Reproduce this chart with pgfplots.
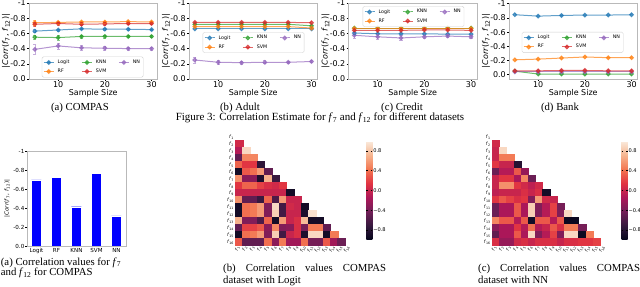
\documentclass[border=0pt]{standalone}
\usepackage{fontspec}
\setmainfont{Liberation Serif}
\newfontfamily\dejavu{DejaVu Sans}
\usepackage{pgfplots}
\pgfplotsset{compat=1.18}
\definecolor{tabblue}{HTML}{1F77B4}
\definecolor{taborange}{HTML}{FF7F0E}
\definecolor{tabgreen}{HTML}{2CA02C}
\definecolor{tabred}{HTML}{D62728}
\definecolor{tabpurple}{HTML}{9467BD}
\newcommand\fl[1]{\textit{f}\textsubscript{#1}}
\newcommand\corrlab{|\textit{Corr}(\textit{f}\textsubscript{7}, \textit{f}\textsubscript{12})|}
\newcommand\capf{\fontsize{10.8}{11}\selectfont}
\pgfplotsset{
  colormap={rocket}{rgb255(0cm)=(3,5,26) rgb255(1.43cm)=(53,25,62) rgb255(2.86cm)=(112,31,87) rgb255(4.29cm)=(173,23,89) rgb255(5.71cm)=(225,51,66) rgb255(7.14cm)=(243,118,81) rgb255(8.57cm)=(246,180,143) rgb255(10cm)=(250,235,221)},
  linechart/.style={
    scale only axis, width=128.4bp, height=76bp, anchor=south west,
    xmin=3.75, xmax=31.25, ymin=0, ymax=1,
    xtick={10,20,30},
    ytick={0,0.2,0.4,0.6,0.8,1},
    yticklabels={0.0,-0.2,-0.4,-0.6,-0.8,-1},
    axis line style={gray!55},
    tick style={black, line width=0.5bp},
    major tick length=2bp,
    tick align=outside, xtick pos=bottom, ytick pos=left,
    font=\dejavu\fontsize{8}{9}\selectfont,
    /pgf/number format/assume math mode=true,
    x tick label style={inner sep=0.5bp},
    y tick label style={inner sep=1bp},
    xlabel={Sample Size},
    ylabel={\corrlab},
    xlabel style={at={(axis description cs:0.5,-0.185)}, anchor=center},
    ylabel style={at={(axis description cs:-0.179,0.5)}, anchor=center},
    unbounded coords=jump,
    legend columns=3,
    legend cell align=left,
    legend style={font=\dejavu\fontsize{4.8}{5.5}\selectfont, draw=gray!35, rounded corners=1.5bp,
      fill=white, fill opacity=0.8, text opacity=1, inner sep=1.2bp,
      /tikz/every odd column/.append style={column sep=1.5bp},
      /tikz/every even column/.append style={column sep=10bp}},
    legend image code/.code={\draw[mark repeat=2,mark phase=2] plot coordinates {(0bp,0bp)(5bp,0bp)(10bp,0bp)};},
  },
  ser/.style={color=#1, mark=*, mark size=1.9bp, line width=1bp, opacity=0.7},
  ebar/.style={color=#1, line width=0.6bp, opacity=0.55, mark=-, mark size=1.6bp, forget plot},
  hmaxis/.style={
    scale only axis, width=117bp, height=112bp, anchor=south west,
    xmin=0.5, xmax=16.5, ymin=0.5, ymax=16.5, y dir=reverse,
    axis line style={draw=none}, major tick length=0bp,
    xtick={1,...,16}, ytick={1,...,16},
    xticklabels={\fl{1},\fl{2},\fl{3},\fl{4},\fl{5},\fl{6},\fl{7},\fl{8},\fl{9},\fl{10},\fl{11},\fl{12},\fl{13},\fl{14},\fl{15},\fl{16}},
    yticklabels={\fl{1},\fl{2},\fl{3},\fl{4},\fl{5},\fl{6},\fl{7},\fl{8},\fl{9},\fl{10},\fl{11},\fl{12},\fl{13},\fl{14},\fl{15},\fl{16}},
    font=\dejavu\fontsize{4.6}{5}\selectfont,
    x tick label style={rotate=65, anchor=east, inner sep=0.8bp},
    y tick label style={inner sep=1.2bp},
    colormap name=rocket, point meta min=-1, point meta max=1,
    colorbar,
    colorbar style={
      at={(parent axis.north east)}, anchor=north west, xshift=5.5bp, yshift=-7.7bp,
      scale only axis, width=6bp, height=99bp, y dir=normal,
      ytick={-0.8,-0.4,0,0.4,0.8},
      yticklabels={−0.8,−0.4,0.0,0.4,0.8},
      axis line style={draw=none},
      major tick length=1.8bp, tick style={black,line width=0.4bp},
      y tick label style={inner sep=0.8bp},
      font=\dejavu\fontsize{5.1}{7}\selectfont,
    },
  },
  hmcell/.style={scatter, only marks, mark=square*, mark size=3.7bp, point meta=explicit,
    scatter/use mapped color={draw=mapped color, fill=mapped color},
    every mark/.append style={yscale=0.96, line width=0.3bp}},
}
\begin{document}
\begin{tikzpicture}
\path[use as bounding box] (0,0) rectangle (640bp,287bp);
% ---------------- (a) COMPAS
\begin{axis}[linechart, at={(29bp,208bp)},
  legend style={at={(0.1,0.02)}, anchor=south west}]
\addplot[ser=tabblue] coordinates {(5,0.63) (10,0.645) (15,0.66) (20,0.655) (25,0.655) (30,0.65)};
\addplot[ser=tabgreen] coordinates {(5,0.55) (10,0.545) (15,0.56) (20,0.56) (25,0.56) (30,0.56)};
\addplot[ser=tabpurple] coordinates {(5,0.39) (10,0.435) (15,0.41) (20,0.405) (25,0.40) (30,0.40)};
\addplot[ser=taborange] coordinates {(5,0.74) (10,0.745) (15,0.75) (20,0.75) (25,0.755) (30,0.75)};
\addplot[ser=tabred] coordinates {(5,0.72) (10,0.73) (15,0.72) (20,0.725) (25,0.73) (30,0.73)};
\legend{Logit,KNN,NN,RF,SVM}
\addplot[ebar=tabblue] coordinates {(5,0.61) (5,0.65) (5,nan) (10,0.63) (10,0.66) (10,nan) (15,0.65) (15,0.67) (15,nan) (20,0.645) (20,0.665) (20,nan) (25,0.645) (25,0.665) (25,nan) (30,0.64) (30,0.66)};
\addplot[ebar=tabgreen] coordinates {(5,0.52) (5,0.58) (5,nan) (10,0.515) (10,0.575) (10,nan) (15,0.54) (15,0.58) (15,nan) (20,0.54) (20,0.58) (20,nan) (25,0.545) (25,0.575) (25,nan) (30,0.545) (30,0.575)};
\addplot[ebar=tabpurple] coordinates {(5,0.33) (5,0.45) (5,nan) (10,0.395) (10,0.475) (10,nan) (15,0.38) (15,0.44) (15,nan) (20,0.38) (20,0.43) (20,nan) (25,0.38) (25,0.42) (25,nan) (30,0.38) (30,0.42)};
\addplot[ebar=taborange] coordinates {(5,0.71) (5,0.77) (5,nan) (10,0.725) (10,0.765) (10,nan) (15,0.735) (15,0.765) (15,nan) (20,0.735) (20,0.765) (20,nan) (25,0.745) (25,0.765) (25,nan) (30,0.74) (30,0.76)};
\addplot[ebar=tabred] coordinates {(5,0.69) (5,0.75) (5,nan) (10,0.71) (10,0.75) (10,nan) (15,0.70) (15,0.74) (15,nan) (20,0.71) (20,0.74) (20,nan) (25,0.715) (25,0.745) (25,nan) (30,0.72) (30,0.74)};
\end{axis}
% ---------------- (b) Adult
\begin{axis}[linechart, at={(189bp,208bp)},
  legend style={at={(0.107,0.618)}, anchor=north west}]
\addplot[ser=tabblue] coordinates {(5,0.66) (10,0.66) (15,0.66) (20,0.66) (25,0.66) (30,0.66)};
\addplot[ser=tabgreen] coordinates {(5,0.72) (10,0.72) (15,0.72) (20,0.72) (25,0.72) (30,0.70)};
\addplot[ser=tabpurple] coordinates {(5,0.25) (10,0.22) (15,0.215) (20,0.22) (25,0.22) (30,0.23)};
\addplot[ser=taborange] coordinates {(5,0.69) (10,0.69) (15,0.69) (20,0.69) (25,0.69) (30,0.67)};
\addplot[ser=tabred] coordinates {(5,0.745) (10,0.745) (15,0.745) (20,0.745) (25,0.745) (30,0.74)};
\legend{Logit,KNN,NN,RF,SVM}
\addplot[ebar=tabpurple] coordinates {(5,0.21) (5,0.29) (5,nan) (10,0.19) (10,0.25) (10,nan) (15,0.195) (15,0.235) (15,nan) (20,0.20) (20,0.24) (20,nan) (25,0.205) (25,0.235) (25,nan) (30,0.215) (30,0.245)};
\end{axis}
% ---------------- (c) Credit
\begin{axis}[linechart, at={(348.5bp,208bp)},
  legend style={at={(0.11,0.96)}, anchor=north west}]
\addplot[ser=tabblue] coordinates {(5,0.605) (10,0.595) (15,0.595) (20,0.595) (25,0.59) (30,0.59)};
\addplot[ser=tabgreen] coordinates {(5,0.67) (10,0.67) (15,0.67) (20,0.67) (25,0.67) (30,0.67)};
\addplot[ser=tabpurple] coordinates {(5,0.575) (10,0.555) (15,0.54) (20,0.555) (25,0.565) (30,0.555)};
\addplot[ser=taborange] coordinates {(5,0.665) (10,0.665) (15,0.665) (20,0.665) (25,0.665) (30,0.665)};
\addplot[ser=tabred] coordinates {(5,0.64) (10,0.64) (15,0.64) (20,0.645) (25,0.645) (30,0.64)};
\legend{Logit,KNN,NN,RF,SVM}
\addplot[ebar=tabpurple] coordinates {(5,0.535) (5,0.615) (5,nan) (10,0.525) (10,0.585) (10,nan) (15,0.51) (15,0.57) (15,nan) (20,0.535) (20,0.575) (20,nan) (25,0.545) (25,0.585) (25,nan) (30,0.535) (30,0.575)};
\addplot[ebar=tabblue] coordinates {(5,0.59) (5,0.62)};
\end{axis}
% ---------------- (d) Bank
\begin{axis}[linechart, at={(509bp,208bp)}, ymin=-0.06, ymax=1.01,
  legend style={at={(0.10,0.62)}, anchor=north west}]
\addplot[ser=tabblue] coordinates {(5,0.845) (10,0.825) (15,0.835) (20,0.84) (25,0.84) (30,0.845)};
\addplot[ser=tabgreen] coordinates {(5,0.05) (10,0.01) (15,0.01) (20,0.01) (25,0.01) (30,0.01)};
\addplot[ser=tabpurple] coordinates {(5,0.04) (10,0.04) (15,0.04) (20,0.04) (25,0.04) (30,0.04)};
\addplot[ser=taborange] coordinates {(5,0.21) (10,0.22) (15,0.235) (20,0.25) (25,0.24) (30,0.24)};
\addplot[ser=tabred] coordinates {(5,0.055) (10,0.055) (15,0.06) (20,0.06) (25,0.055) (30,0.055)};
\legend{Logit,KNN,NN,RF,SVM}
\end{axis}
% ---------------- captions top
\node[font=\capf] at (80bp,179bp) {(a) COMPAS};
\node[font=\capf] at (240bp,179bp) {(b) Adult};
\node[font=\capf] at (402bp,179bp) {(c) Credit};
\node[font=\capf] at (560bp,179bp) {(d) Bank};
\node[font=\fontsize{11}{12}\selectfont] at (320bp,169bp) {Figure 3: Correlation Estimate for \textit{f}\textsubscript{7} and \textit{f}\textsubscript{12} for different datasets};
% ---------------- bar chart
\begin{axis}[scale only axis, width=99bp, height=95bp, at={(27bp,41bp)}, anchor=south west,
  ybar, bar width=10bp, xmin=-0.475, xmax=4.475, ymin=0, ymax=1,
  xtick={0,1,2,3,4}, xticklabels={Logit,RF,KNN,SVM,NN},
  ytick={0,0.2,0.4,0.6,0.8,1}, yticklabels={0.0,-0.2,-0.4,-0.6,-0.8,-1},
  axis line style={gray!55}, tick style={black, line width=0.5bp}, major tick length=1.5bp,
  tick align=outside, xtick pos=bottom, ytick pos=left,
  font=\dejavu\fontsize{5.6}{6}\selectfont,
  ylabel={\corrlab}, ylabel style={at={(axis description cs:-0.2,0.5)}, anchor=center},
  x tick label style={inner sep=0.5bp}, y tick label style={inner sep=1bp}]
\addplot[fill=blue, draw=white, line width=0.3bp] coordinates {(0,0.695) (1,0.72) (2,0.414) (3,0.765) (4,0.316)};
\end{axis}
% ---------------- heatmap Logit
\begin{axis}[hmaxis, at={(235.3bp,41.7bp)}]
\addplot[hmcell] coordinates {
(1,2) [0.05]
(1,3) [-0.1] (2,3) [0.9]
(1,4) [-0.5] (2,4) [0.5] (3,4) [0.5]
(1,5) [0.35] (2,5) [0.15] (3,5) [0.15] (4,5) [-0.75]
(1,6) [-0.9] (2,6) [0.3] (3,6) [0.4] (4,6) [0.6] (5,6) [-0.5]
(1,7) [0.55] (2,7) [-0.3] (3,7) [-0.3] (4,7) [-0.85] (5,7) [0.7] (6,7) [-0.7]
(1,8) [0.15] (2,8) [0.35] (3,8) [0.35] (4,8) [0.2] (5,8) [0.1] (6,8) [0.05] (7,8) [0.15]
(1,9) [0.0] (2,9) [0.0] (3,9) [0.0] (4,9) [0.0] (5,9) [0.0] (6,9) [0.0] (7,9) [0.0] (8,9) [-0.9]
(1,10) [0.55] (2,10) [-0.5] (3,10) [-0.5] (4,10) [-0.7] (5,10) [0.35] (6,10) [-0.6] (7,10) [0.6] (8,10) [0.0] (9,10) [0.0]
(1,11) [-0.9] (2,11) [0.4] (3,11) [0.45] (4,11) [0.6] (5,11) [-0.35] (6,11) [0.9] (7,11) [-0.65] (8,11) [0.05] (9,11) [0.0] (10,11) [-0.9]
(1,12) [-0.9] (2,12) [0.4] (3,12) [0.45] (4,12) [0.6] (5,12) [-0.35] (6,12) [0.85] (7,12) [-0.65] (8,12) [0.0] (9,12) [0.0] (10,12) [-0.85] (11,12) [0.95]
(1,13) [0.7] (2,13) [-0.35] (3,13) [-0.35] (4,13) [-0.6] (5,13) [0.35] (6,13) [-0.9] (7,13) [0.6] (8,13) [0.0] (9,13) [0.1] (10,13) [0.75] (11,13) [-0.9] (12,13) [-0.9]
(1,14) [-0.5] (2,14) [0.2] (3,14) [0.2] (4,14) [0.3] (5,14) [-0.3] (6,14) [0.5] (7,14) [-0.35] (8,14) [-0.3] (9,14) [0.1] (10,14) [-0.4] (11,14) [0.45] (12,14) [0.45] (13,14) [-0.5]
(1,15) [-0.9] (2,15) [0.4] (3,15) [0.45] (4,15) [0.6] (5,15) [-0.35] (6,15) [0.85] (7,15) [-0.65] (8,15) [0.0] (9,15) [0.1] (10,15) [-0.85] (11,15) [0.9] (12,15) [0.9] (13,15) [-0.9] (14,15) [0.45]
(1,16) [0.3] (2,16) [-0.5] (3,16) [-0.5] (4,16) [-0.5] (5,16) [0.4] (6,16) [-0.3] (7,16) [0.45] (8,16) [-0.2] (9,16) [-0.2] (10,16) [0.4] (11,16) [-0.4] (12,16) [-0.4] (13,16) [0.3] (14,16) [-0.2] (15,16) [-0.45]
};
\end{axis}
% ---------------- heatmap NN
\begin{axis}[hmaxis, at={(492bp,41.7bp)}, width=115.5bp]
\addplot[hmcell, mark size=3.62bp] coordinates {
(1,2) [0.05]
(1,3) [0.0] (2,3) [0.9]
(1,4) [0.0] (2,4) [0.45] (3,4) [0.45]
(1,5) [0.15] (2,5) [0.0] (3,5) [0.0] (4,5) [-0.8]
(1,6) [-0.45] (2,6) [-0.1] (3,6) [-0.1] (4,6) [0.3] (5,6) [-0.25]
(1,7) [0.0] (2,7) [0.15] (3,7) [0.15] (4,7) [-0.15] (5,7) [0.5] (6,7) [-0.45]
(1,8) [0.0] (2,8) [0.55] (3,8) [0.55] (4,8) [0.15] (5,8) [0.05] (6,8) [-0.05] (7,8) [0.05]
(1,9) [-0.05] (2,9) [0.0] (3,9) [0.0] (4,9) [0.0] (5,9) [0.1] (6,9) [0.0] (7,9) [0.1] (8,9) [-0.9]
(1,10) [0.15] (2,10) [0.3] (3,10) [0.2] (4,10) [0.1] (5,10) [0.15] (6,10) [-0.35] (7,10) [0.6] (8,10) [0.05] (9,10) [0.0]
(1,11) [-0.45] (2,11) [-0.15] (3,11) [-0.15] (4,11) [0.3] (5,11) [-0.15] (6,11) [0.85] (7,11) [-0.35] (8,11) [-0.1] (9,11) [0.2] (10,11) [-0.4]
(1,12) [-0.45] (2,12) [-0.15] (3,12) [-0.15] (4,12) [0.3] (5,12) [-0.15] (6,12) [0.85] (7,12) [-0.35] (8,12) [-0.1] (9,12) [0.2] (10,12) [-0.35] (11,12) [0.9]
(1,13) [0.5] (2,13) [0.3] (3,13) [0.3] (4,13) [-0.1] (5,13) [0.3] (6,13) [-0.9] (7,13) [0.3] (8,13) [0.3] (9,13) [-0.1] (10,13) [0.3] (11,13) [-0.95] (12,13) [-0.95]
(1,14) [-0.3] (2,14) [-0.15] (3,14) [-0.15] (4,14) [0.15] (5,14) [-0.1] (6,14) [0.4] (7,14) [-0.1] (8,14) [0.0] (9,14) [0.3] (10,14) [0.1] (11,14) [0.45] (12,14) [0.45] (13,14) [-0.4]
(1,15) [-0.5] (2,15) [-0.15] (3,15) [-0.15] (4,15) [0.3] (5,15) [-0.15] (6,15) [0.9] (7,15) [-0.35] (8,15) [-0.1] (9,15) [0.2] (10,15) [-0.35] (11,15) [0.9] (12,15) [0.9] (13,15) [-0.95] (14,15) [0.45]
(1,16) [0.1] (2,16) [-0.25] (3,16) [-0.25] (4,16) [0.05] (5,16) [0.1] (6,16) [0.0] (7,16) [0.1] (8,16) [0.1] (9,16) [0.1] (10,16) [0.0] (11,16) [0.1] (12,16) [0.1] (13,16) [0.15] (14,16) [0.15] (15,16) [0.2]
};
\end{axis}
% ---------------- bottom captions
\node[anchor=base west, inner sep=0pt, font=\capf] at (0.7bp,22bp) {(a) Correlation values for \textit{f}\textsubscript{7}};
\node[anchor=base west, inner sep=0pt, font=\capf] at (0.7bp,11.2bp) {and \textit{f}\textsubscript{12} for COMPAS};
\node[anchor=base west, inner sep=0pt, font=\capf] at (223bp,15.5bp) {\makebox[163bp][s]{(b) Correlation values COMPAS}};
\node[anchor=base west, inner sep=0pt, font=\capf] at (223bp,3.8bp) {dataset with Logit};
\node[anchor=base west, inner sep=0pt, font=\capf] at (478bp,15.5bp) {\makebox[162bp][s]{(c) Correlation values COMPAS}};
\node[anchor=base west, inner sep=0pt, font=\capf] at (478bp,3.8bp) {dataset with NN};
\end{tikzpicture}
\end{document}
